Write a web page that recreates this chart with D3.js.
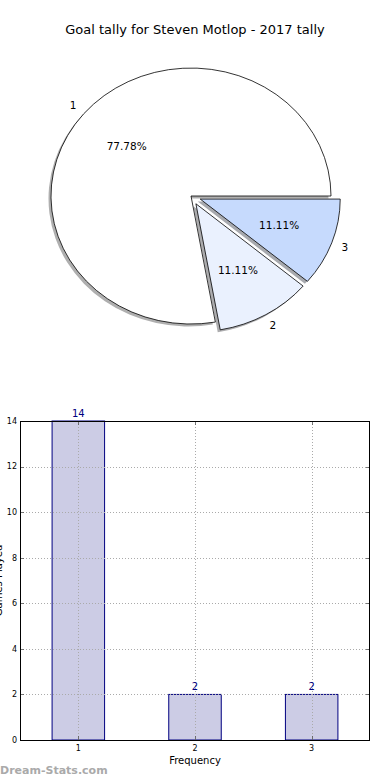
<!DOCTYPE html>
<html>
<head>
<meta charset="utf-8">
<script src="https://cdn.jsdelivr.net/npm/d3@7"></script>
<style>
  body { margin: 0; background: #fff; }
  svg { display: block; font-family: "DejaVu Sans", sans-serif; }
</style>
</head>
<body>
<div id="chart"></div>
<script>
// Data
const categories = ["1", "2", "3"];
const tally = [14, 2, 2];
const sliceColors = ["#ffffff", "#eaf1fe", "#c6dafd"];
const explode = [0, 0.07, 0.07];
const yTicks = [0, 2, 4, 6, 8, 10, 12, 14];

const W = 390, H = 780;

const svg = d3.select("#chart")
    .append("svg")
    .attr("width", W)
    .attr("height", H);

// Title
svg.append("text")
    .attr("x", 195)
    .attr("y", 34)
    .attr("text-anchor", "middle")
    .style("font-size", "13px")
    .text("Goal tally for Steven Motlop - 2017 tally");

// ---------- Pie (elliptical, matplotlib style) ----------
const cx = 191, cy = 196, rx = 140, ry = 128;
const total = d3.sum(tally);

// counter-clockwise from 3 o'clock
const pie = d3.pie()
    .sort(null)
    .startAngle(Math.PI / 2)
    .endAngle(Math.PI / 2 - 2 * Math.PI);

const arcs = pie(tally);
const arc = d3.arc().innerRadius(0).outerRadius(1);

function offsetOf(d, dist) {
    const mid = (d.startAngle + d.endAngle) / 2;
    return [Math.sin(mid) * dist, -Math.cos(mid) * dist];
}

const pieG = svg.append("g");

// shadows first (lower zorder)
arcs.forEach((d, i) => {
    const [ox, oy] = offsetOf(d, explode[i]);
    const c = d3.rgb(sliceColors[i]);
    pieG.append("path")
        .attr("transform", `translate(${cx + ox * rx - 2.5},${cy + oy * ry + 2.5}) scale(${rx},${ry})`)
        .attr("d", arc(d))
        .attr("fill", d3.rgb(c.r * 0.3, c.g * 0.3, c.b * 0.3))
        .attr("fill-opacity", 0.45)
        .attr("stroke", "none");
});

arcs.forEach((d, i) => {
    const [ox, oy] = offsetOf(d, explode[i]);
    pieG.append("path")
        .attr("transform", `translate(${cx + ox * rx},${cy + oy * ry}) scale(${rx},${ry})`)
        .attr("d", arc(d))
        .attr("fill", sliceColors[i])
        .attr("stroke", "#000")
        .attr("stroke-width", 0.8)
        .attr("vector-effect", "non-scaling-stroke");
});

// labels
arcs.forEach((d, i) => {
    const [ox, oy] = offsetOf(d, explode[i]);
    const [lx, ly] = offsetOf(d, 1.1);
    const [px, py] = offsetOf(d, 0.6);
    svg.append("text")
        .attr("x", cx + (ox + lx) * rx)
        .attr("y", cy + (oy + ly) * ry)
        .attr("dy", "0.35em")
        .attr("text-anchor", "middle")
        .style("font-size", "10.5px")
        .text(categories[i]);
    svg.append("text")
        .attr("x", cx + (ox + px) * rx)
        .attr("y", cy + (oy + py) * ry)
        .attr("dy", "0.35em")
        .attr("text-anchor", "middle")
        .style("font-size", "10.5px")
        .text((d.value / total * 100).toFixed(2) + "%");
});

// ---------- Bar chart ----------
const plotLeft = 20, plotRight = 370, plotTop = 421, plotBottom = 740;

const x = d3.scaleLinear().domain([0.5, 3.5]).range([plotLeft, plotRight]);
const y = d3.scaleLinear().domain([0, 14]).range([plotBottom, plotTop]);
const barW = 0.45;

const bars = svg.append("g");

bars.selectAll("rect")
    .data(tally)
    .enter()
    .append("rect")
    .attr("x", (d, i) => x(i + 1 - barW / 2))
    .attr("y", d => y(d))
    .attr("width", x(1 + barW) - x(1))
    .attr("height", d => y(0) - y(d))
    .attr("fill", "#ccccE5")
    .attr("stroke", "#000080")
    .attr("stroke-width", 1);

// grid (drawn on top of bars)
const grid = svg.append("g")
    .attr("stroke", "#aaa")
    .attr("stroke-width", 1)
    .attr("stroke-dasharray", "1,2");

grid.selectAll(".hg")
    .data(yTicks)
    .enter()
    .append("line")
    .attr("x1", plotLeft).attr("x2", plotRight)
    .attr("y1", d => Math.round(y(d)) + 0.5)
    .attr("y2", d => Math.round(y(d)) + 0.5);

grid.selectAll(".vg")
    .data(categories)
    .enter()
    .append("line")
    .attr("x1", (d, i) => Math.round(x(i + 1)) + 0.5)
    .attr("x2", (d, i) => Math.round(x(i + 1)) + 0.5)
    .attr("y1", plotTop).attr("y2", plotBottom);

// value labels
svg.selectAll(".val")
    .data(tally)
    .enter()
    .append("text")
    .attr("x", (d, i) => x(i + 1))
    .attr("y", d => y(d) - 4)
    .attr("text-anchor", "middle")
    .attr("fill", "#000080")
    .style("font-size", "10px")
    .text(d => d);

// ticks (inward, on all sides)
const ticks = svg.append("g").attr("stroke", "#555").attr("stroke-width", 0.8);
yTicks.forEach(t => {
    const yy = Math.round(y(t)) + 0.5;
    ticks.append("line").attr("x1", plotLeft).attr("x2", plotLeft + 4).attr("y1", yy).attr("y2", yy);
    ticks.append("line").attr("x1", plotRight - 4).attr("x2", plotRight).attr("y1", yy).attr("y2", yy);
});
categories.forEach((c, i) => {
    const xx = Math.round(x(i + 1)) + 0.5;
    ticks.append("line").attr("x1", xx).attr("x2", xx).attr("y1", plotBottom - 4).attr("y2", plotBottom);
    ticks.append("line").attr("x1", xx).attr("x2", xx).attr("y1", plotTop).attr("y2", plotTop + 4);
});

// frame
svg.append("rect")
    .attr("x", plotLeft + 0.5)
    .attr("y", plotTop + 0.5)
    .attr("width", plotRight - plotLeft - 1)
    .attr("height", plotBottom - plotTop)
    .attr("fill", "none")
    .attr("stroke", "#000")
    .attr("stroke-width", 1);

// tick labels
svg.selectAll(".yl")
    .data(yTicks)
    .enter()
    .append("text")
    .attr("x", plotLeft - 3)
    .attr("y", d => y(d))
    .attr("dy", "0.35em")
    .attr("text-anchor", "end")
    .style("font-size", "8px")
    .text(d => d);

svg.selectAll(".xl")
    .data(categories)
    .enter()
    .append("text")
    .attr("x", (d, i) => x(i + 1))
    .attr("y", plotBottom + 11)
    .attr("text-anchor", "middle")
    .style("font-size", "8px")
    .text(d => d);

// axis labels
svg.append("text")
    .attr("x", 195)
    .attr("y", 764)
    .attr("text-anchor", "middle")
    .style("font-size", "10px")
    .text("Frequency");

// y label sits mostly outside the page, as in the original
svg.append("text")
    .attr("transform", `translate(2,${(plotTop + plotBottom) / 2}) rotate(-90)`)
    .attr("text-anchor", "middle")
    .style("font-size", "10px")
    .text("Games Played");

// watermark
svg.append("text")
    .attr("x", 0)
    .attr("y", 774)
    .attr("fill", "#aaa")
    .style("font-size", "11px")
    .style("font-weight", "bold")
    .text("Dream-Stats.com");
</script>
</body>
</html>
